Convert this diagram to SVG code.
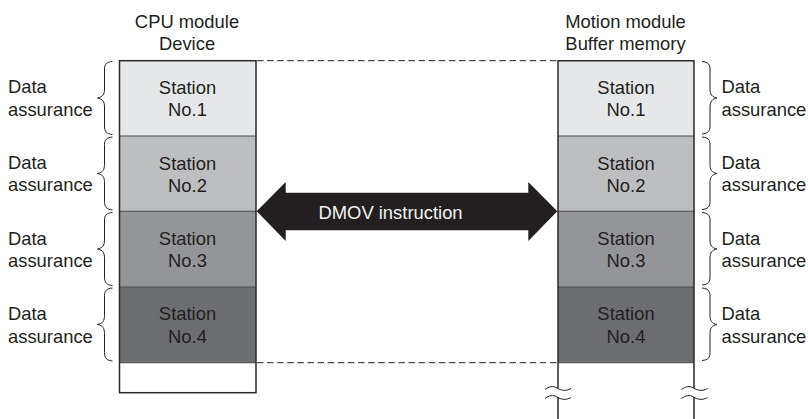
<svg xmlns="http://www.w3.org/2000/svg" width="808" height="419" viewBox="0 0 808 419">
<style>
text{font-family:"Liberation Sans",Arial,sans-serif;font-size:18.4px;fill:#231f20}
.m{text-anchor:middle}
.frame{fill:none;stroke:#2b2829;stroke-width:1.5}
.sep{stroke:#4a4a4c;stroke-width:1.1}
.dash{fill:none;stroke:#231f20;stroke-width:1;stroke-dasharray:6.5 3.6}
.brace{fill:none;stroke:#231f20;stroke-width:1}
.s1{fill:#e6e7e8}.s2{fill:#bcbec0}.s3{fill:#939598}.s4{fill:#6d6e71}
</style>
<defs>
<path id="bl" class="brace" d="M112.500 0.500C106.500 1 104.500 3.500 104.500 8V28C104.500 33.500 102.500 36 97.500 37C102.500 38 104.500 40.500 104.500 46V65C104.500 70.500 106.500 73 112.500 73.500"/>
<path id="br" class="brace" d="M702 0.500C708 1 710 3.500 710 8V28C710 33.500 712 36 717 37C712 38 710 40.500 710 46V65C710 70 708 72.500 702 73"/>
<path id="wave" class="brace" d="M0 3.500C4 0.500 8 -0.500 12 2S21 5.500 26 2.500M0 12.500C4 9.500 8 8.500 12 11S21 14.500 26 11.500"/>
</defs>
<g id="connectors">
<path class="dash" d="M257 60.700H558M257 362.700H558"/>
<path id="dmov-arrow" fill="#231f20" d="M256.700 211.300L285.700 182V192.700H528.300V182L557.300 211.300L528.300 241V230.300H285.700V241Z"/>
</g>
<g id="cpu-device">
<text class="m" x="187" y="27.500">CPU module</text>
<text class="m" x="187" y="49.500">Device</text>
<rect class="s1" x="119.500" y="60.700" width="136.500" height="75.300"/>
<rect class="s2" x="119.500" y="136" width="136.500" height="75.300"/>
<rect class="s3" x="119.500" y="211.300" width="136.500" height="75.700"/>
<rect class="s4" x="119.500" y="287" width="136.500" height="75.700"/>
<path class="sep" d="M119.500 136H256M119.500 211.300H256M119.500 287H256M119.500 362.700H256"/>
<rect class="frame" x="119.500" y="60.700" width="136.500" height="332"/>
</g>
<g id="motion-buffer">
<text class="m" x="625.500" y="27.500">Motion module</text>
<text class="m" x="625.500" y="49.500">Buffer memory</text>
<rect class="s1" x="558" y="60.700" width="136" height="75.300"/>
<rect class="s2" x="558" y="136" width="136" height="75.300"/>
<rect class="s3" x="558" y="211.300" width="136" height="75.700"/>
<rect class="s4" x="558" y="287" width="136" height="75.700"/>
<path class="sep" d="M558 136H694M558 211.300H694M558 287H694M558 362.700H694"/>
<path class="frame" d="M558 388V60.700H694V388M558 397V419M694 397V419"/>
<use href="#wave" x="545" y="386"/>
<use href="#wave" x="681.500" y="386"/>
</g>
<g id="left-station-labels">
<text class="m" x="187.500" y="94">Station</text><text class="m" x="187.500" y="116">No.1</text>
<text class="m" x="187.500" y="169.500">Station</text><text class="m" x="187.500" y="191.700">No.2</text>
<text class="m" x="187.500" y="245">Station</text><text class="m" x="187.500" y="267">No.3</text>
<text class="m" x="187.500" y="320">Station</text><text class="m" x="187.500" y="342.700">No.4</text>
</g>
<g id="right-station-labels">
<text class="m" x="626" y="94">Station</text><text class="m" x="626" y="116">No.1</text>
<text class="m" x="626" y="169.500">Station</text><text class="m" x="626" y="191.700">No.2</text>
<text class="m" x="626" y="245">Station</text><text class="m" x="626" y="267">No.3</text>
<text class="m" x="626" y="320">Station</text><text class="m" x="626" y="342.700">No.4</text>
</g>
<g id="left-assurance">
<use href="#bl" y="61"/><use href="#bl" y="136.500"/><use href="#bl" y="212"/><use href="#bl" y="287.500"/>
<text x="8" y="92.700">Data</text><text x="8" y="116">assurance</text>
<text x="8" y="168.700">Data</text><text x="8" y="191">assurance</text>
<text x="8" y="245">Data</text><text x="8" y="267">assurance</text>
<text x="8" y="320">Data</text><text x="8" y="343">assurance</text>
</g>
<g id="right-assurance">
<use href="#br" y="61"/><use href="#br" y="136.500"/><use href="#br" y="212"/><use href="#br" y="287.500"/>
<text x="721.500" y="92.700">Data</text><text x="721.500" y="116">assurance</text>
<text x="721.500" y="168.700">Data</text><text x="721.500" y="191">assurance</text>
<text x="721.500" y="245">Data</text><text x="721.500" y="267">assurance</text>
<text x="721.500" y="320">Data</text><text x="721.500" y="343">assurance</text>
</g>
<g id="dmov-label"><text x="318.500" y="219.300" style="fill:#f1f2f2">DMOV instruction</text></g>
</svg>
